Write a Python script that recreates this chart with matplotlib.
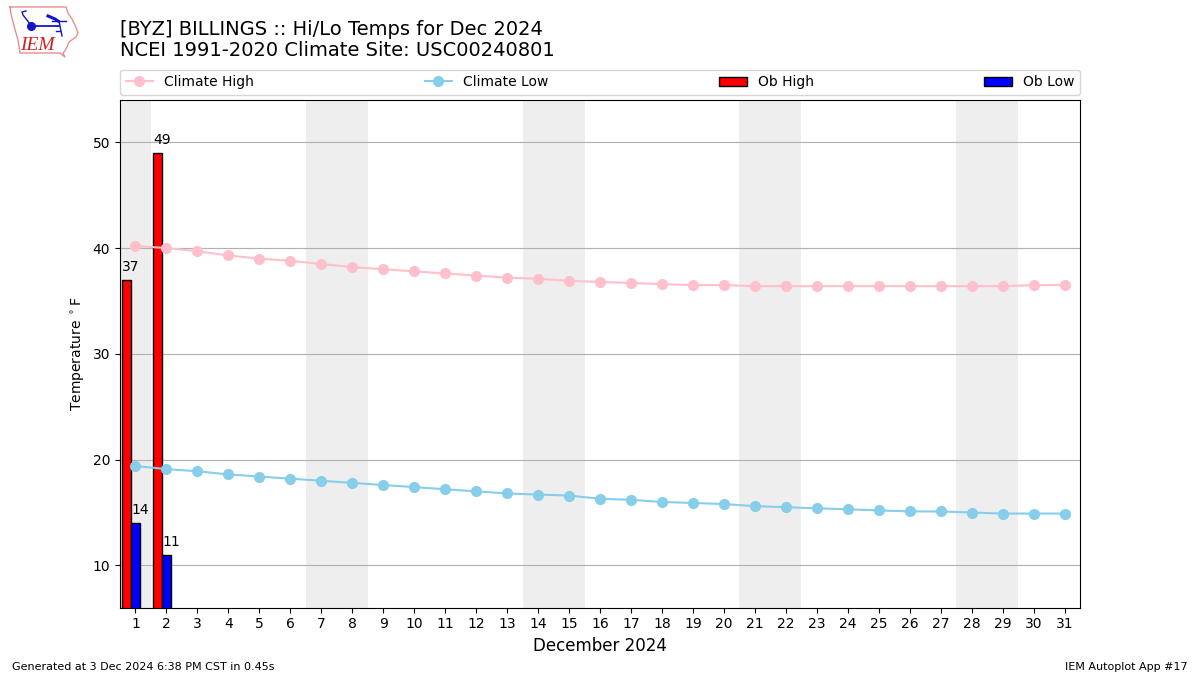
import matplotlib
matplotlib.use('Agg')
import matplotlib.pyplot as plt
import numpy as np

days = list(range(1, 32))
climate_high = [40.2, 40.0, 39.7, 39.3, 39.0, 38.8, 38.5, 38.2, 38.0, 37.8, 37.6,
                37.4, 37.2, 37.1, 36.9, 36.8, 36.7, 36.6, 36.5, 36.5, 36.4, 36.4,
                36.4, 36.4, 36.4, 36.4, 36.4, 36.4, 36.4, 36.5, 36.5]
climate_low = [19.4, 19.1, 18.9, 18.6, 18.4, 18.2, 18.0, 17.8, 17.6, 17.4, 17.2,
               17.0, 16.8, 16.7, 16.6, 16.3, 16.2, 16.0, 15.9, 15.8, 15.6, 15.5,
               15.4, 15.3, 15.2, 15.1, 15.1, 15.0, 14.9, 14.9, 14.9]
ob_days = [1, 2]
ob_high = [37, 49]
ob_low = [14, 11]
weekends = [(0.5, 1.5), (6.5, 8.5), (13.5, 15.5), (20.5, 22.5), (27.5, 29.5)]

W, H = 1200, 675
fig = plt.figure(figsize=(12, 6.75), dpi=100)
ax = fig.add_axes([120 / W, 1 - 607.7 / H, 960 / W, 507.7 / H])

for lo, hi in weekends:
    ax.axvspan(lo, hi, color='#eeeeee', lw=0, zorder=0)
ax.grid(axis='y', color='#b0b0b0', lw=0.8)
ax.set_axisbelow(True)

h1, = ax.plot(days, climate_high, marker='o', color='pink', lw=1.5, ms=7,
              label='Climate High', zorder=3)
h2, = ax.plot(days, climate_low, marker='o', color='skyblue', lw=1.5, ms=7,
              label='Climate Low', zorder=3)
high_x = np.array(ob_days) - 0.3
low_x = np.array(ob_days) - 0.01
b1 = ax.bar(high_x, ob_high, width=0.29, color='r', ec='k', label='Ob High', zorder=2.5)
b2 = ax.bar(low_x, ob_low, width=0.29, color='b', ec='k', label='Ob Low', zorder=2.5)

for x, v in zip(high_x, ob_high):
    ax.annotate(str(v), (x - 0.13, v), xytext=(0, 6.7), textcoords='offset points',
                ha='left', fontsize=10, zorder=5)
for x, v in zip(low_x, ob_low):
    ax.annotate(str(v), (x - 0.13, v), xytext=(0, 6.7), textcoords='offset points',
                ha='left', fontsize=10, zorder=5)

ax.set_xlim(0.5, 31.5)
ax.set_ylim(6, 54)
ax.set_xticks(days)
ax.set_yticks([10, 20, 30, 40, 50])
ax.set_xlabel('December 2024', fontsize=12)
ax.set_ylabel(r'Temperature $^\circ$F', fontsize=10)

leg_ax = fig.add_axes([120 / W, 1 - 95 / H, 960 / W, 25 / H])
leg_ax.axis('off')
leg_ax.legend(handles=[h1, h2, b1, b2], ncol=4, mode='expand', loc='center',
              bbox_to_anchor=(0, 0.01, 1, 1), borderaxespad=0, fontsize=10)

fig.text(120 / W, 1 - 29.5 / H, '[BYZ] BILLINGS :: Hi/Lo Temps for Dec 2024',
         fontsize=14, va='center')
fig.text(120 / W, 1 - 51 / H, 'NCEI 1991-2020 Climate Site: USC00240801',
         fontsize=14, va='center')
fig.text(12 / W, 1 - 666.5 / H, 'Generated at 3 Dec 2024 6:38 PM CST in 0.45s',
         fontsize=8, va='center')
fig.text(1188 / W, 1 - 666.5 / H, 'IEM Autoplot App #17', fontsize=8, va='center',
         ha='right')

# logo, drawn by hand in pixel coords
logo = fig.add_axes([0, 0, 1, 1], facecolor='none')
logo.set_xlim(0, W)
logo.set_ylim(H, 0)
logo.axis('off')
outline_x = [10, 66, 68, 72, 75, 78, 76, 69, 67, 65, 63, 65, 60, 20, 18, 14, 11, 10]
outline_y = [7, 7, 13, 19, 25, 33, 37, 42, 47, 51, 53, 57, 53, 53, 40, 26, 14, 7]
logo.plot(outline_x, outline_y, color='#e89090', lw=1)
logo.plot([31, 59], [26, 26], color='#1414c8', lw=1.3)
logo.plot([31], [26], 'o', color='#1414c8', ms=5.5)
logo.plot([30, 23, 22, 26], [24, 15, 12, 11], color='#1414c8', lw=1)
logo.plot([48, 55, 58], [16, 19, 21], color='#1414c8', lw=2.2)
logo.plot([52, 66], [21, 21], color='#1414c8', lw=1)
logo.plot([59, 62], [21, 36], color='#1414c8', lw=1)
logo.plot([56, 60], [31, 31], color='#1414c8', lw=1)
logo.text(37.5, 46, 'IEM', color='#d02020', fontsize=14, style='italic',
          family='Liberation Serif', ha='center', va='center')

fig.savefig('out.png', dpi=100)
